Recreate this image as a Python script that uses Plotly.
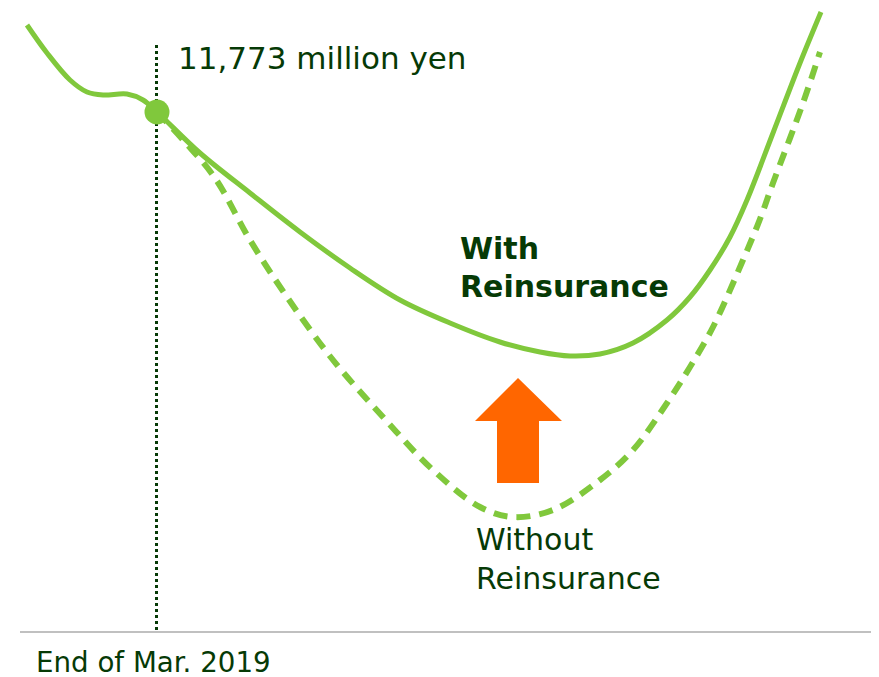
import plotly.graph_objects as go

# ---- data (conceptual units: x = time, y = value) ----
with_x = [27, 47, 70, 87, 103, 127, 143, 157, 200, 250, 300, 350, 400, 450, 500, 540, 570, 600, 633, 667, 690, 710, 730, 747, 773, 800, 821]
with_y = [652, 624, 597, 585, 582, 583, 577, 565, 524, 484, 445, 409, 377, 354, 335, 325, 321, 323, 334, 357, 380, 407, 440, 477, 544, 614, 665]

without_x = [157, 185, 215, 250, 287, 333, 383, 433, 480, 513, 553, 600, 633, 667, 690, 713, 743, 760, 773, 803, 820]
without_y = [565, 535, 499, 437, 380, 317, 260, 207, 170, 160, 167, 197, 227, 274, 310, 350, 417, 458, 494, 574, 625]

point_x = [157]
point_y = [565]

label_point = "11,773 million yen"
label_with = ["With", "Reinsurance"]
label_without = "Without<br>Reinsurance"
label_date = "End of Mar. 2019"

GREEN = "#80c83c"
DARK = "#063a06"
ORANGE = "#ff6600"
FONT = "DejaVu Sans"

# the page body has an 8px margin: the figure covers window pixels 8..879 x 8..677
W, H = 871, 669

fig = go.Figure()

fig.add_trace(go.Scatter(x=without_x, y=without_y, mode="lines",
                         line=dict(color=GREEN, width=6, dash="14px,9px", shape="spline", smoothing=1),
                         hoverinfo="skip"))
fig.add_trace(go.Scatter(x=with_x, y=with_y, mode="lines",
                         line=dict(color=GREEN, width=5, shape="spline", smoothing=1),
                         hoverinfo="skip"))
fig.add_trace(go.Scatter(x=point_x, y=point_y, mode="markers",
                         marker=dict(color=GREEN, size=25),
                         hoverinfo="skip"))

shapes = [
    # baseline axis
    dict(type="line", xref="x", yref="y", x0=20, x1=879, y0=45, y1=45,
         line=dict(color="#c0c0c0", width=2)),
    # vertical dotted marker line
    dict(type="line", xref="x", yref="y", x0=156.5, x1=156.5, y0=47, y1=634,
         line=dict(color=DARK, width=3, dash="dot"), layer="below"),
    # orange arrow
    dict(type="path", xref="x", yref="y",
         path="M 497,194 L 539,194 L 539,256 L 562,256 L 518,299 L 475,256 L 497,256 Z",
         fillcolor=ORANGE, line=dict(width=0)),
]

annotations = [
    dict(x=177, y=619, text=label_point, showarrow=False, xanchor="left", yanchor="middle",
         borderpad=0, font=dict(family=FONT, size=31, color=DARK)),
    dict(x=459, y=429, text="<b>%s</b>" % label_with[0], showarrow=False, xanchor="left", yanchor="middle",
         borderpad=0, font=dict(family=FONT, size=30, color=DARK)),
    dict(x=459, y=391, text="<b>%s</b>" % label_with[1], showarrow=False, xanchor="left", yanchor="middle",
         borderpad=0, font=dict(family=FONT, size=30, color=DARK)),
    dict(x=475, y=118, text=label_without, showarrow=False, xanchor="left", yanchor="middle", align="left",
         borderpad=0, font=dict(family=FONT, size=30, color=DARK)),
    dict(x=35, y=15, text=label_date, showarrow=False, xanchor="left", yanchor="middle",
         height=28, valign="middle",
         borderpad=0, font=dict(family=FONT, size=27.7, color=DARK)),
]

fig.update_layout(
    width=W, height=H,
    margin=dict(l=0, r=0, t=0, b=0),
    paper_bgcolor="white", plot_bgcolor="white",
    showlegend=False,
    xaxis=dict(range=[8, 879], visible=False, fixedrange=True),
    yaxis=dict(range=[0, 669], visible=False, fixedrange=True),
    shapes=shapes,
    annotations=annotations,
)

fig.write_html("out.html")
